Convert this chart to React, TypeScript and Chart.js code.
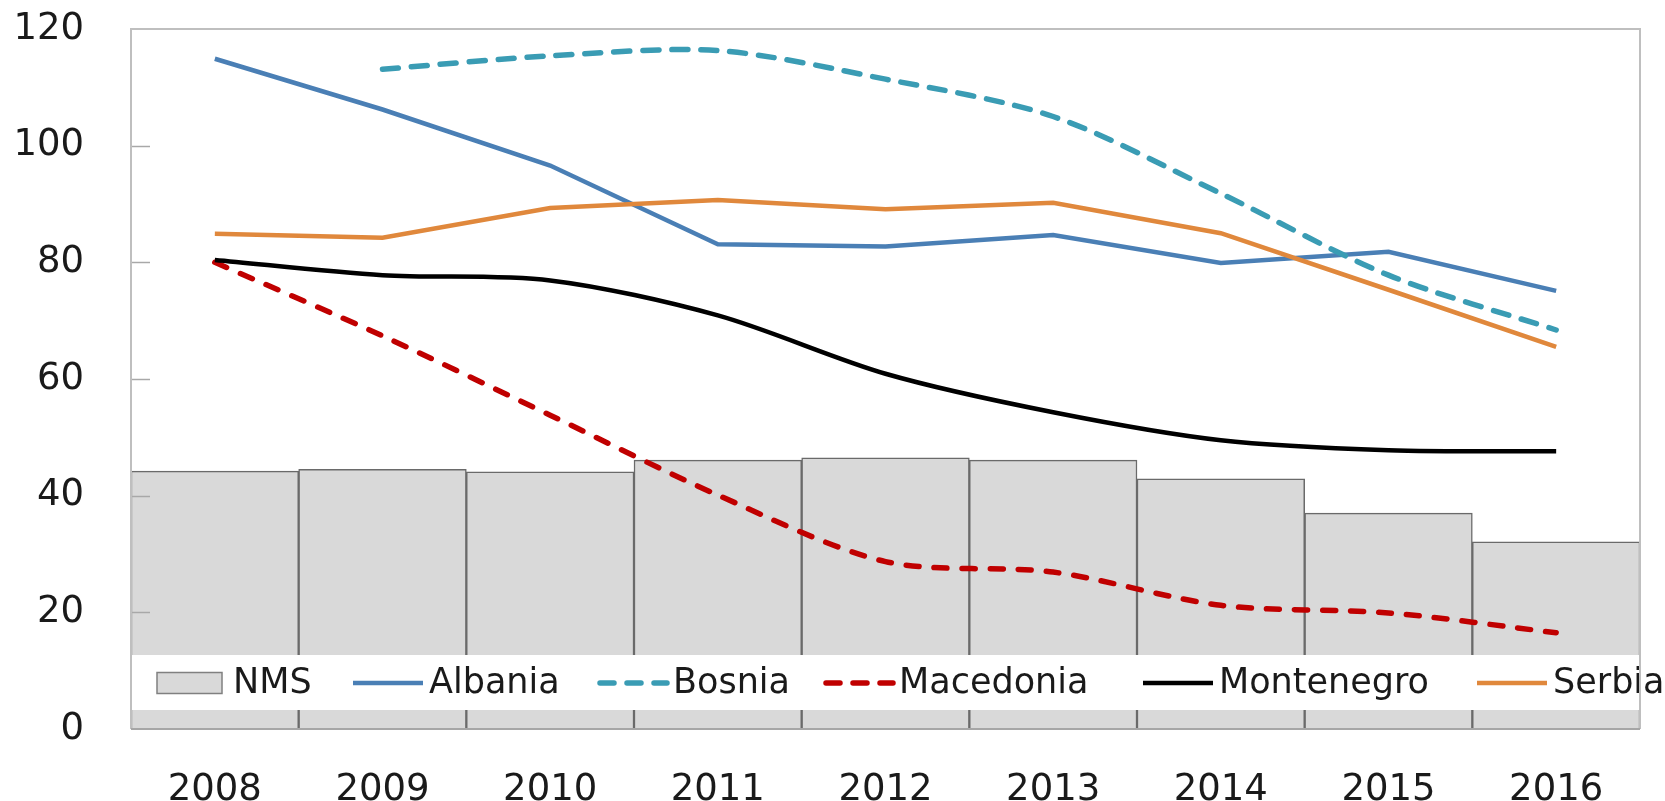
import React, { useEffect, useRef } from "react";
import { Chart, registerables } from "chart.js";

Chart.register(...registerables);

const years = ["2008", "2009", "2010", "2011", "2012", "2013", "2014", "2015", "2016"];
const nms = [44.2, 44.5, 44.1, 46.1, 46.5, 46.1, 42.9, 37.0, 32.1];
const albania = [114.9, 106.2, 96.6, 83.1, 82.7, 84.7, 79.9, 81.8, 75.1];
const bosnia = [null, 113.1, 115.4, 116.3, 111.4, 105.0, 91.8, 77.8, 68.4];
const macedonia = [80.0, 67.4, 53.8, 40.1, 28.7, 26.9, 21.2, 19.9, 16.5];
const montenegro = [80.4, 77.8, 76.9, 70.9, 60.9, 54.3, 49.5, 47.8, 47.6];
const serbia = [84.9, 84.2, 89.3, 90.7, 89.1, 90.2, 85.0, 75.3, 65.5];
const yMin = 0;
const yMax = 120;
const yStep = 20;

const FONT = '"DejaVu Sans", sans-serif';

// legend sample start offsets (px from the plot's left edge)
const legendSampleX = [26, 222, 466, 692, 1012, 1346];

const framePlugin = {
  id: "frameAndLegend",
  afterDatasetsDraw(chart: any) {
    const { ctx, chartArea } = chart;
    const { left, right, top, bottom } = chartArea;
    const yScale = chart.scales.y;
    ctx.save();

    // inner tick marks on the left axis
    ctx.strokeStyle = "#a8a8a8";
    ctx.lineWidth = 1.5;
    yScale.ticks.forEach((t: any) => {
      if (t.value <= yMin || t.value >= yMax) return;
      const y = Math.round(yScale.getPixelForValue(t.value)) + 0.5;
      ctx.beginPath();
      ctx.moveTo(left, y);
      ctx.lineTo(left + 19, y);
      ctx.stroke();
    });

    // legend band
    ctx.fillStyle = "#ffffff";
    ctx.fillRect(left + 1, bottom - 74, right - left - 1, 55);

    const cy = bottom - 46;
    ctx.font = `35px ${FONT}`;
    ctx.textBaseline = "middle";
    ctx.textAlign = "left";
    chart.data.datasets.forEach((ds: any, i: number) => {
      let x = left + legendSampleX[i];
      if (ds.type === "bar") {
        ctx.fillStyle = ds.backgroundColor;
        ctx.fillRect(x, cy - 10.5, 65, 21);
        ctx.strokeStyle = "#808080";
        ctx.lineWidth = 1.5;
        ctx.setLineDash([]);
        ctx.strokeRect(x, cy - 10.5, 65, 21);
        x += 65 + 11;
      } else {
        const dashed = ds.borderDash && ds.borderDash.length;
        ctx.strokeStyle = ds.borderColor;
        ctx.lineWidth = ds.borderWidth;
        ctx.lineCap = dashed ? "round" : "butt";
        ctx.setLineDash(dashed ? [14, 13] : []);
        ctx.beginPath();
        ctx.moveTo(x + (dashed ? 3 : 0), cy);
        ctx.lineTo(x + 70, cy);
        ctx.stroke();
        ctx.setLineDash([]);
        x += 70 + 6;
      }
      ctx.fillStyle = "#1a1a1a";
      ctx.fillText(ds.label, x, cy + 1);
    });

    // frame
    ctx.strokeStyle = "#bfbfbf";
    ctx.lineWidth = 2;
    ctx.setLineDash([]);
    ctx.beginPath();
    ctx.moveTo(left, bottom);
    ctx.lineTo(left, top);
    ctx.lineTo(right, top);
    ctx.lineTo(right, bottom);
    ctx.stroke();
    ctx.strokeStyle = "#a6a6a6";
    ctx.beginPath();
    ctx.moveTo(left, bottom);
    ctx.lineTo(right, bottom);
    ctx.stroke();
    ctx.restore();
  },
};

export default function App() {
  const ref = useRef<HTMLCanvasElement | null>(null);

  useEffect(() => {
    if (!ref.current) return;
    const chart = new Chart(ref.current, {
      type: "bar",
      data: {
        labels: years,
        datasets: [
          {
            type: "bar",
            label: "NMS",
            data: nms,
            backgroundColor: "#d9d9d9",
            borderColor: "#6a6a6a",
            borderWidth: 1.5,
            barPercentage: 1,
            categoryPercentage: 1,
            order: 10,
          },
          {
            type: "line",
            label: "Albania",
            data: albania,
            borderColor: "#4a7fb5",
            borderWidth: 4.5,
            pointRadius: 0,
            tension: 0,
            order: 5,
          },
          {
            type: "line",
            label: "Bosnia",
            data: bosnia,
            borderColor: "#3a9cb4",
            borderWidth: 5.5,
            borderDash: [16, 13],
            borderCapStyle: "round",
            pointRadius: 0,
            tension: 0.3,
            order: 4,
          },
          {
            type: "line",
            label: "Macedonia",
            data: macedonia,
            borderColor: "#c00000",
            borderWidth: 5.5,
            borderDash: [13, 15],
            borderCapStyle: "round",
            pointRadius: 0,
            tension: 0.3,
            order: 3,
          },
          {
            type: "line",
            label: "Montenegro",
            data: montenegro,
            borderColor: "#000000",
            borderWidth: 4.5,
            pointRadius: 0,
            tension: 0.3,
            order: 2,
          },
          {
            type: "line",
            label: "Serbia",
            data: serbia,
            borderColor: "#e0883c",
            borderWidth: 4.5,
            pointRadius: 0,
            tension: 0,
            order: 1,
          },
        ] as any,
      },
      options: {
        animation: false,
        responsive: false,
        layout: { padding: { top: 29, right: 25, left: 0, bottom: 0 } },
        plugins: {
          legend: { display: false },
          tooltip: { enabled: false },
        },
        scales: {
          x: {
            type: "category",
            offset: true,
            grid: { display: false },
            border: { display: false },
            ticks: {
              padding: 31,
              color: "#1a1a1a",
              font: { family: FONT, size: 37 },
              maxRotation: 0,
            },
            afterFit: (s: any) => {
              s.height = 72;
            },
          },
          y: {
            min: yMin,
            max: yMax,
            grid: {
              display: true,
              drawOnChartArea: false,
              drawTicks: true,
              tickLength: 47,
              tickColor: "rgba(0,0,0,0)",
            },
            border: { display: false },
            ticks: {
              stepSize: yStep,
              padding: 0,
              color: "#1a1a1a",
              font: { family: FONT, size: 37 },
            },
            afterFit: (s: any) => {
              s.width = 131;
            },
          },
        },
      } as any,
      plugins: [framePlugin],
    });
    return () => chart.destroy();
  }, []);

  return (
    <div style={{ position: "absolute", left: 0, top: 0, width: 1665, height: 801, background: "#fff" }}>
      <canvas ref={ref} width={1665} height={801} style={{ display: "block" }} />
    </div>
  );
}
